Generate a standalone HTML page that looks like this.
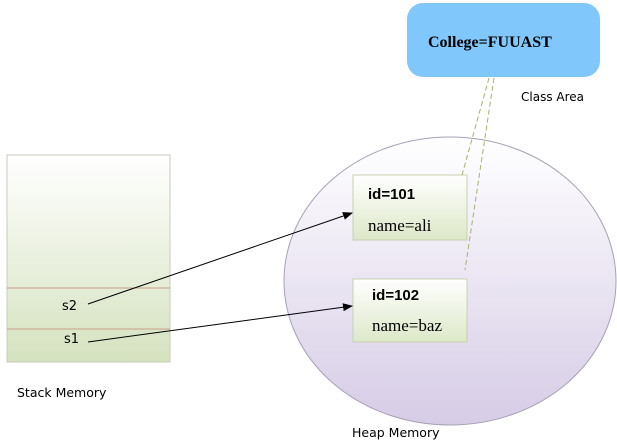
<!DOCTYPE html>
<html><head><style>body{margin:0;background:#fff}</style></head><body>
<svg width="617" height="444" xmlns="http://www.w3.org/2000/svg" style="display:block">
<defs>
<linearGradient id="st" x1="0" y1="0" x2="0" y2="1"><stop offset="0" stop-color="#ffffff"/><stop offset="1" stop-color="#d5e2bf"/></linearGradient>
<linearGradient id="hp" x1="0" y1="0" x2="0" y2="1"><stop offset="0" stop-color="#ffffff"/><stop offset="1" stop-color="#d6cce6"/></linearGradient>
<linearGradient id="bx" x1="0" y1="0" x2="0" y2="1"><stop offset="0" stop-color="#ffffff"/><stop offset="1" stop-color="#dde8c8"/></linearGradient>
<marker id="a" markerWidth="10" markerHeight="8" refX="9" refY="4" orient="auto" markerUnits="userSpaceOnUse"><path d="M0,0 L10,4 L0,8 z" fill="#000"/></marker>
</defs>
<rect x="7" y="155" width="163" height="207" fill="url(#st)" stroke="#c8ccbc"/>
<line x1="7" y1="288" x2="170" y2="288" stroke="#c9a08a"/>
<line x1="7" y1="329" x2="170" y2="329" stroke="#c9a08a"/>
<text x="62" y="310" font-family="DejaVu Sans, sans-serif" font-size="13">s2</text>
<text x="64" y="343" font-family="DejaVu Sans, sans-serif" font-size="13">s1</text>
<text x="17" y="397" font-family="DejaVu Sans, sans-serif" font-size="12.5">Stack Memory</text>
<ellipse cx="450" cy="281" rx="166" ry="144" fill="url(#hp)" stroke="#a8a0b4"/>
<text x="352" y="437" font-family="DejaVu Sans, sans-serif" font-size="12.5">Heap Memory</text>
<rect x="407" y="3" width="193" height="74" rx="16" fill="#80c8fc"/>
<text x="428" y="47" font-family="Liberation Serif, serif" font-size="16" font-weight="bold">College=FUUAST</text>
<text x="521" y="101" font-family="DejaVu Sans, sans-serif" font-size="12">Class Area</text>
<rect x="353" y="175" width="114" height="65" fill="url(#bx)" stroke="#c8d0b0"/>
<rect x="353" y="279" width="114" height="63" fill="url(#bx)" stroke="#c8d0b0"/>
<line x1="489" y1="78" x2="462" y2="175" stroke="#a8b070" stroke-dasharray="5,3"/>
<line x1="494" y1="78" x2="465" y2="270" stroke="#a8b070" stroke-dasharray="5,3"/>
<text x="368" y="199" font-family="Liberation Sans, sans-serif" font-size="15" font-weight="bold">id=101</text>
<text x="368" y="231" font-family="Liberation Serif, serif" font-size="17">name=ali</text>
<text x="372" y="300" font-family="Liberation Sans, sans-serif" font-size="15" font-weight="bold">id=102</text>
<text x="372" y="331" font-family="Liberation Serif, serif" font-size="17">name=baz</text>
<line x1="88" y1="304" x2="352" y2="213" stroke="#000" marker-end="url(#a)"/>
<line x1="88" y1="342" x2="352" y2="306" stroke="#000" marker-end="url(#a)"/>
</svg>
</body></html>
